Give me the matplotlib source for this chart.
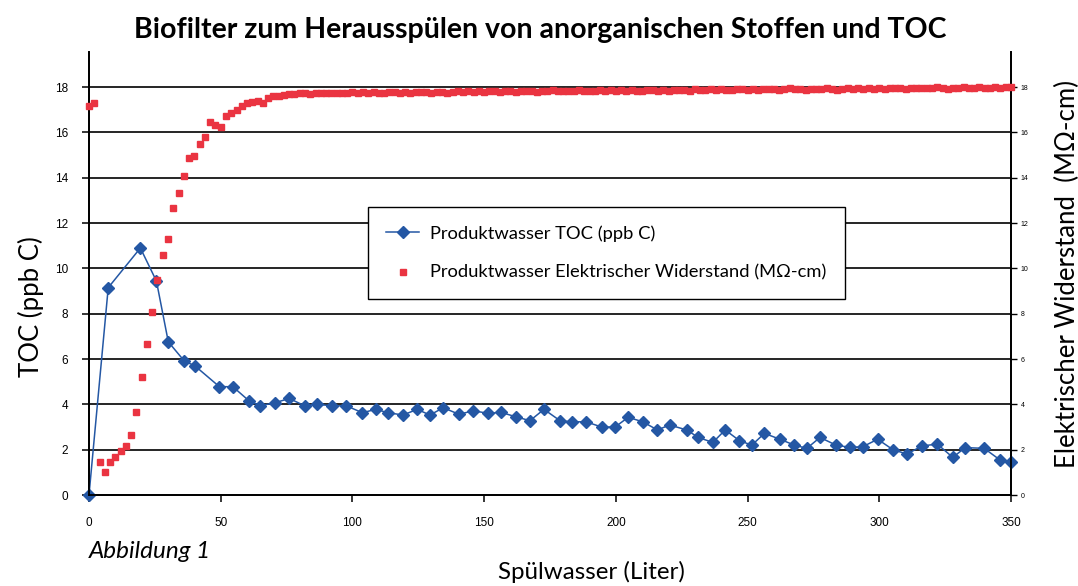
import numpy as np
import matplotlib.pyplot as plt
from matplotlib.lines import Line2D

# TOC (ppb C) vs. Spuelwasser (Liter)
toc_x = [0, 7.3, 19.5, 25.6, 30.1, 36.2, 40.2, 49.5, 54.6, 60.7, 65, 70.6, 76, 82,
         86.4, 92.4, 97.6, 103.8, 108.8, 113.6, 119.2, 124.6, 129.4, 134.5, 140.5,
         145.9, 151.6, 156.3, 162.1, 167.4, 172.7, 178.8, 183.2, 188.7, 194.6, 199.7,
         204.7, 210.2, 215.8, 220.4, 226.9, 231.3, 236.8, 241.5, 246.9, 251.6, 256.4,
         262.3, 267.8, 272.5, 277.5, 283.6, 288.9, 293.7, 299.4, 305.3, 310.6, 316.1,
         322, 327.9, 332.6, 339.8, 345.9, 350]
toc_y = [0, 9.15, 10.9, 9.44, 6.76, 5.91, 5.7, 4.78, 4.78, 4.16, 3.94, 4.07, 4.26, 3.93,
         4.01, 3.93, 3.94, 3.63, 3.78, 3.63, 3.53, 3.78, 3.53, 3.85, 3.56, 3.72, 3.6,
         3.65, 3.45, 3.28, 3.78, 3.28, 3.23, 3.23, 3.0, 3.0, 3.43, 3.23, 2.87, 3.09,
         2.87, 2.54, 2.32, 2.87, 2.4, 2.2, 2.72, 2.46, 2.2, 2.06, 2.54, 2.2, 2.1, 2.13,
         2.46, 1.99, 1.81, 2.16, 2.25, 1.66, 2.09, 2.06, 1.54, 1.47]

# Elektrischer Widerstand (MOhm-cm), sampled every 2 Liter
res_x = np.arange(0, 352, 2)
res_y = [17.16, 17.28, 1.47, 1.0, 1.47, 1.69, 1.94, 2.16, 2.65, 3.68, 5.22, 6.66,
         8.09, 9.51, 10.59, 11.29, 12.65, 13.34, 14.09, 14.88, 14.97, 15.47, 15.81,
         16.47, 16.32, 16.25, 16.73, 16.88, 17.01, 17.16, 17.28, 17.35, 17.39, 17.32,
         17.54, 17.6,
         17.62, 17.66, 17.70, 17.68, 17.72, 17.74, 17.71, 17.75, 17.73, 17.76, 17.74,
         17.72, 17.76, 17.75, 17.77,
         17.74, 17.77, 17.75, 17.78, 17.76, 17.74, 17.78, 17.77, 17.75, 17.79, 17.76,
         17.78, 17.80, 17.77, 17.75, 17.78, 17.80, 17.76, 17.79, 17.81, 17.78, 17.83,
         17.80, 17.82, 17.79,
         17.83, 17.81, 17.78, 17.82, 17.84, 17.80, 17.83, 17.85, 17.81, 17.79, 17.84,
         17.82, 17.86, 17.83, 17.81, 17.85, 17.83, 17.86, 17.84, 17.82, 17.85, 17.87,
         17.84, 17.86, 17.83,
         17.86, 17.84, 17.87, 17.85, 17.83, 17.86, 17.88, 17.85, 17.87, 17.84, 17.86,
         17.88, 17.86, 17.84, 17.91, 17.88, 17.86, 17.90, 17.87, 17.92, 17.89, 17.87,
         17.90, 17.92, 17.89,
         17.91, 17.88, 17.92, 17.90, 17.93, 17.89, 17.91, 17.94, 17.90, 17.92, 17.88,
         17.91, 17.93, 17.90, 17.94, 17.92, 17.89, 17.93, 17.95, 17.91, 17.94, 17.92,
         17.96, 17.93, 17.95,
         17.92, 17.96, 17.94, 17.97, 17.93, 17.95, 17.98, 17.94, 17.97, 17.95, 17.99,
         17.96, 17.93, 17.98, 17.96, 17.99, 17.95, 17.97, 18.00, 17.96, 17.98, 18.01,
         17.97, 17.99, 18.00]

blue = '#2457a4'
red = '#ea3441'
lab_font = ['Lato', 'DejaVu Sans']
tick_font = 'Liberation Sans'

fig = plt.figure(figsize=(10.78, 5.86), dpi=100)
ax = fig.add_axes([89 / 1078, 91 / 586, 922 / 1078, 443 / 586])
ax2 = ax.twinx()

ax.set_xlim(0, 350)
ax.set_ylim(0, 19.55)
ax2.set_ylim(0, 19.55)

ax.set_yticks(range(0, 19, 2))
ax2.set_yticks(range(0, 19, 2))
ax.set_xticks(range(0, 351, 50))
for y in range(2, 19, 2):
    ax.axhline(y, color='black', lw=1.2, zorder=1)

ax.plot(toc_x, toc_y, color=blue, lw=1.1, marker='D', ms=6, mec=blue, mfc=blue,
        clip_on=False, zorder=3)
ax2.plot(res_x, res_y, ls='none', marker='s', ms=5, color=red, mec=red,
         clip_on=False, zorder=3)

for a in (ax, ax2):
    a.spines['top'].set_visible(False)
    for s in ('left', 'right', 'bottom'):
        a.spines[s].set_linewidth(1.3)
ax.tick_params(axis='y', direction='out', length=5, width=1.1, labelsize=8.5, pad=10)
ax.tick_params(axis='x', direction='out', length=5, width=1.1, labelsize=8.5, pad=11)
ax2.tick_params(axis='y', direction='out', length=4, width=1.0, labelsize=5, pad=3)
for lbl in ax.get_xticklabels() + ax.get_yticklabels() + ax2.get_yticklabels():
    lbl.set_fontfamily(tick_font)

fig.text(31 / 1078, 1 - 307 / 586, 'TOC (ppb C)', fontsize=18.5, family=lab_font,
         rotation=90, ha='center', va='center')
ax2.set_ylabel('Elektrischer Widerstand  (M\u03a9-cm)', fontsize=18.5,
               family=lab_font, labelpad=19)
fig.text(591 / 1078, 1 - 572 / 586, 'Spülwasser (Liter)', fontsize=17.4,
         family=lab_font, ha='center', va='center')
fig.text(89 / 1078, 1 - 551 / 586, 'Abbildung 1', fontsize=17.5, family=lab_font,
         style='italic', ha='left', va='center')
fig.text(540 / 1078, 1 - 30 / 586, 'Biofilter zum Herausspülen von anorganischen Stoffen und TOC',
         fontsize=20.5, family=lab_font, weight='bold', ha='center', va='center')

handles = [Line2D([], [], color=blue, lw=1.1, marker='D', ms=6),
           Line2D([], [], ls='none', marker='s', ms=5, color=red)]
leg = ax2.legend(handles, ['Produktwasser TOC (ppb C)',
                           'Produktwasser Elektrischer Widerstand (M\u03a9-cm)'],
                 loc='upper left', bbox_to_anchor=(368 / 1078, 1 - 207 / 586),
                 bbox_transform=fig.transFigure, borderaxespad=0, frameon=True,
                 fancybox=False, prop={'family': lab_font, 'size': 13.2},
                 borderpad=1.0, labelspacing=1.25, handlelength=1.8,
                 handletextpad=0.6)
leg.get_frame().set_edgecolor('black')
leg.get_frame().set_linewidth(1.0)
leg.get_frame().set_alpha(1)
leg.set_zorder(10)

fig.savefig('out.png', dpi=100)
